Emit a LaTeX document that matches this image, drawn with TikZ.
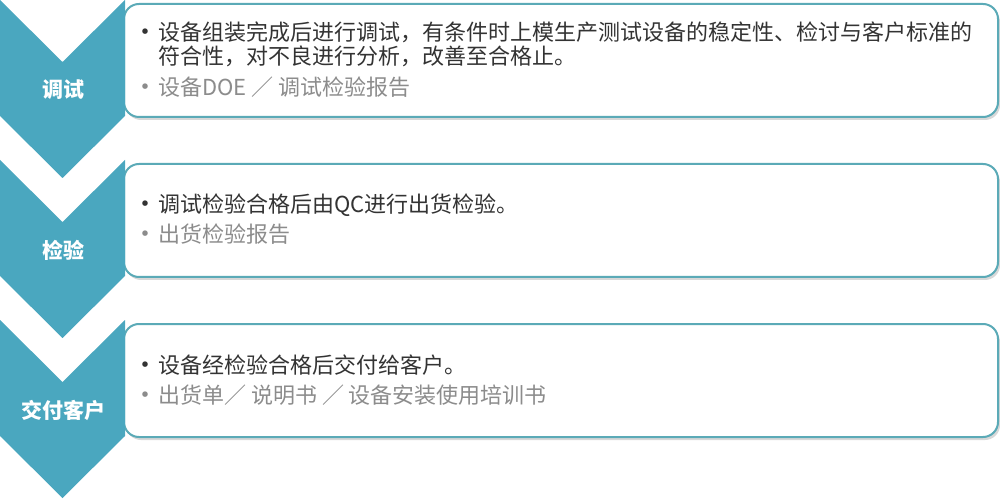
\documentclass[tikz,border=0pt]{standalone}
\usepackage{fontspec}
\setmainfont{Noto Sans CJK SC}
\usetikzlibrary{shadows}
\definecolor{chevteal}{HTML}{4AA7BF}
\definecolor{boxline}{HTML}{5BAAB7}
\definecolor{maintext}{HTML}{333333}
\definecolor{subtext}{HTML}{8C8C8C}

\begin{document}
\begin{tikzpicture}[x=1pt,y=-1pt,
		stage/.style={text=white, font=\fontsize{21}{24}\selectfont\bfseries},
		card/.style={draw=boxline, line width=2pt, rounded corners=15pt, fill=white, inner sep=0pt,
			minimum width=874pt, minimum height=113pt,
			drop shadow={shadow xshift=2pt, shadow yshift=-3pt, fill=black!30, opacity=.5}},
		main/.style={anchor=base west, inner sep=0pt, text=maintext, font=\fontsize{22}{24}\selectfont},
		sub/.style={main, text=subtext},
		dot/.style={anchor=base, inner sep=0pt, font=\fontsize{26}{28}\selectfont}]
		\useasboundingbox (0,0) rectangle (1000,502);
		% boxes
		\node[card](c1)at(561,60.5){};
		\node[card](c2)at(561,220.5){};
		\node[card](c3)at(561,380.5){};
		% chevrons
		\fill[chevteal](0,0)--(62.5,62)--(125,0)--(125,116)--(62.5,178)--(0,116)--cycle;
		\fill[chevteal](0,160)--(62.5,222)--(125,160)--(125,276)--(62.5,338)--(0,276)--cycle;
		\fill[chevteal](0,320)--(62.5,382)--(125,320)--(125,436)--(62.5,498)--(0,436)--cycle;
		\node[stage](s1)at(63,90){调试};
		\node[stage](s2)at(63,250){检验};
		\node[stage](s3)at(63,410){交付客户};
		% texts
		\node[dot, text=maintext](d1)at(145,42){•};
		\node[main](t1)at(158,41){设备组装完成后进行调试，有条件时上模生产测试设备的稳定性、检讨与客户标准的};
		\node[main](t1b)at(158,65){符合性，对不良进行分析，改善至合格止。};
		\node[dot, text=subtext](d1s)at(145,97){•};
		\node[sub](u1)at(158,96){设备DOE ／ 调试检验报告};
		\node[dot, text=maintext](d2)at(145,214){•};
		\node[main](t2)at(158,213){调试检验合格后由QC进行出货检验。};
		\node[dot, text=subtext](d2s)at(145,244){•};
		\node[sub](u2)at(158,243){出货检验报告};
		\node[dot, text=maintext](d3)at(145,374){•};
		\node[main](t3)at(158,373){设备经检验合格后交付给客户。};
		\node[dot, text=subtext](d3s)at(145,404){•};
		\node[sub](u3)at(158,403){出货单／ 说明书 ／ 设备安装使用培训书};
	\end{tikzpicture}
\end{document}
